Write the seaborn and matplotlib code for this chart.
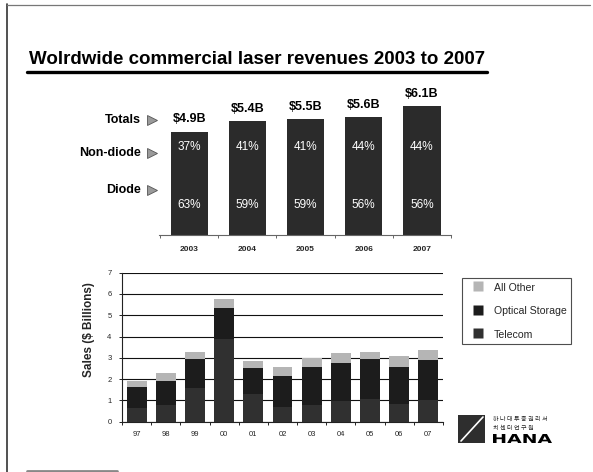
import matplotlib
matplotlib.use("Agg")
import matplotlib.pyplot as plt
from matplotlib.lines import Line2D
from matplotlib.patches import Rectangle, PathPatch
from matplotlib.textpath import TextPath
from matplotlib.font_manager import FontProperties
from matplotlib.transforms import Affine2D, IdentityTransform
import seaborn as sns
import pandas as pd

# ---- data: laser revenues 2003-2007 ----
years = ["2003", "2004", "2005", "2006", "2007"]
totals = [4.9, 5.4, 5.5, 5.6, 6.1]            # $ billions
nondiode_pct = [37, 41, 41, 44, 44]
diode_pct = [63, 59, 59, 56, 56]

# ---- data: sales by segment 1997-2007 ($ billions) ----
periods = ["97", "98", "99", "00", "01", "02", "03", "04", "05", "06", "07"]
telecom = [0.65, 0.80, 1.60, 3.90, 1.30, 0.70, 0.80, 0.95, 1.05, 0.85, 1.00]
optical = [0.99, 1.13, 1.33, 1.42, 1.20, 1.45, 1.78, 1.82, 1.88, 1.70, 1.90]
other = [0.29, 0.34, 0.34, 0.43, 0.36, 0.43, 0.40, 0.44, 0.33, 0.53, 0.47]
segments = ["All Other", "Optical Storage", "Telecom"]

sns.set_theme(style="white")
plt.rcParams["font.family"] = ["Liberation Sans", "DejaVu Sans"]

W, H = 593, 472
fig = plt.figure(figsize=(W / 100, H / 100), dpi=100)
fig.patch.set_facecolor("white")


def box(x0, y0, x1, y1):
    """Pixel box (top-left origin) -> figure fraction rect."""
    return [x0 / W, 1 - y1 / H, (x1 - x0) / W, (y1 - y0) / H]


def fx(x):
    return x / W


def fy(y):
    return 1 - y / H


# ---- slide frame ----
fig.add_artist(Line2D([fx(7), fx(7)], [fy(4), fy(472)], color="#333333", lw=1.2))
fig.add_artist(Line2D([fx(7), fx(590)], [fy(5), fy(5)], color="#777777", lw=0.9))
fig.add_artist(Line2D([fx(27), fx(117)], [fy(471), fy(471)], color="#888888", lw=2.0))

# ---- title ----
fig.text(fx(29), fy(59), "Wolrdwide commercial laser revenues 2003 to 2007",
         fontsize=13.5, fontweight="bold", ha="left", va="center", color="black")
fig.add_artist(Line2D([fx(27), fx(487)], [fy(71.5), fy(71.5)], color="black", lw=2.4))

# ---- top chart: totals with diode / non-diode shares ----
bar_dark = "#2b2b2b"
ax1 = fig.add_axes(box(159, 100, 451, 235))
top_df = pd.DataFrame({"year": years, "total": totals,
                       "diode": [t * p / 100 for t, p in zip(totals, diode_pct)]})
sns.barplot(data=top_df, x="year", y="total", color=bar_dark, saturation=1,
            width=0.64, ax=ax1, linewidth=0)
sns.barplot(data=top_df, x="year", y="diode", color=bar_dark, saturation=1,
            width=0.64, ax=ax1, linewidth=0)
ax1.set_xlim(-0.52, 4.49)
ax1.set_ylim(0, 6.4)
for i, (t, nd, d) in enumerate(zip(totals, nondiode_pct, diode_pct)):
    ax1.text(i, t + 0.3, f"${t:.1f}B", ha="center", va="bottom",
             fontsize=9, fontweight="bold", color="black")
    ax1.text(i, 4.15, f"{nd}%", ha="center", va="center", fontsize=8.5, color="white")
    ax1.text(i, 1.4, f"{d}%", ha="center", va="center", fontsize=8.5, color="white")
for s in ["top", "right", "left"]:
    ax1.spines[s].set_visible(False)
ax1.spines["bottom"].set_color("#666666")
ax1.spines["bottom"].set_linewidth(0.8)
ax1.set_yticks([])
ax1.set_xlabel("")
ax1.set_ylabel("")
ax1.set_xticks(range(len(years)))
ax1.set_xticklabels(years, fontsize=6, fontweight="bold")
ax1.set_xticks([i - 0.5 for i in range(len(years) + 1)], minor=True)
ax1.tick_params(axis="x", which="major", length=0, pad=8)
ax1.tick_params(axis="x", which="minor", length=2.5, color="#666666", width=0.7,
                direction="out", bottom=True)

# row labels with pointer triangles
for label, y in [("Totals", 120), ("Non-diode", 153), ("Diode", 190)]:
    fig.text(fx(141), fy(y), label, ha="right", va="center", fontsize=9,
             fontweight="bold", color="black")
    fig.add_artist(Line2D([fx(152)], [fy(y)], marker=">", markersize=6.5,
                          color="#9a9a9a", markeredgecolor="#555555",
                          markeredgewidth=0.6, linestyle="none"))

# ---- bottom chart: stacked sales by segment ----
col_other = "#b5b5b5"
col_optical = "#1c1c1c"
col_telecom = "#303030"
ax2 = fig.add_axes(box(122, 272.7, 443, 421.7))
seg_df = pd.DataFrame({"period": periods, "telecom": telecom,
                       "optical": optical, "other": other})
seg_df["dark"] = seg_df["telecom"] + seg_df["optical"]
seg_df["total"] = seg_df["dark"] + seg_df["other"]
sns.barplot(data=seg_df, x="period", y="total", color=col_other, saturation=1,
            width=0.68, ax=ax2, linewidth=0, zorder=3)
sns.barplot(data=seg_df, x="period", y="dark", color=col_optical, saturation=1,
            width=0.68, ax=ax2, linewidth=0, zorder=3)
sns.barplot(data=seg_df, x="period", y="telecom", color=col_telecom, saturation=1,
            width=0.68, ax=ax2, linewidth=0, zorder=3)
ax2.set_xlim(-0.5, len(periods) - 0.5)
ax2.set_ylim(0, 7)
ax2.set_yticks(range(0, 8))
ax2.set_yticklabels([str(v) for v in range(0, 8)], fontsize=5.5)
ax2.yaxis.grid(True, color="#111111", lw=0.8)
ax2.set_axisbelow(True)
for s in ["top", "right"]:
    ax2.spines[s].set_visible(False)
for s in ["left", "bottom"]:
    ax2.spines[s].set_color("#222222")
    ax2.spines[s].set_linewidth(0.8)
ax2.set_xlabel("")
ax2.set_ylabel("Sales ($ Billions)", fontsize=8.5, fontweight="bold")
ax2.yaxis.set_label_coords(-0.084, 0.62)
ax2.set_xticks(range(len(periods)))
ax2.set_xticklabels(periods, fontsize=5.5)
ax2.set_xticks([i - 0.5 for i in range(len(periods) + 1)], minor=True)
ax2.tick_params(axis="x", which="major", length=0, pad=7)
ax2.tick_params(axis="x", which="minor", length=2.5, color="#222222", width=0.7,
                direction="out", bottom=True)
ax2.tick_params(axis="y", which="major", length=2.5, color="#222222", width=0.7,
                direction="out", left=True, pad=5)

# legend with square swatches
handles = [Line2D([], [], marker="s", markersize=7.5, linestyle="none",
                  markerfacecolor=c, markeredgecolor="none")
           for c in (col_other, col_optical, col_telecom)]
leg = fig.legend(handles, segments, loc="upper left",
                 bbox_to_anchor=(fx(462), fy(278)), frameon=True, fancybox=False,
                 fontsize=7.6, handlelength=2.2, handleheight=1.0, handletextpad=0.4,
                 labelspacing=1.25, borderpad=0.4, borderaxespad=0)
leg.get_frame().set_edgecolor("#222222")
leg.get_frame().set_linewidth(0.8)

# ---- logo ----
fig.add_artist(Rectangle((fx(458), fy(443)), (485 - 458) / W, (443 - 415) / H,
                         transform=fig.transFigure, facecolor="#2e2e2e",
                         edgecolor="none"))
fig.add_artist(Line2D([fx(461), fx(483)], [fy(441), fy(417)], color="white", lw=1.2))
fig.text(fx(493), fy(419), "하 나 대 투 증 권 리 서", fontsize=4.4,
         family=["Noto Sans CJK KR", "DejaVu Sans"], ha="left", va="center",
         color="#222222")
fig.text(fx(493), fy(428), "치 센 터 연 구 원", fontsize=4.4,
         family=["Noto Sans CJK KR", "DejaVu Sans"], ha="left", va="center",
         color="#222222")
tp = TextPath((0, 0), "HANA", size=10,
              prop=FontProperties(family="DejaVu Sans", weight="bold"))
ext = tp.get_extents()
sx = 59 / ext.width
sy = 9 / ext.height
tr = Affine2D().translate(-ext.x0, -ext.y0).scale(sx, sy).translate(493, H - 443)
fig.add_artist(PathPatch(tp, transform=tr + IdentityTransform(),
                         facecolor="black", edgecolor="none"))

fig.savefig("out.png", dpi=100, facecolor="white")
